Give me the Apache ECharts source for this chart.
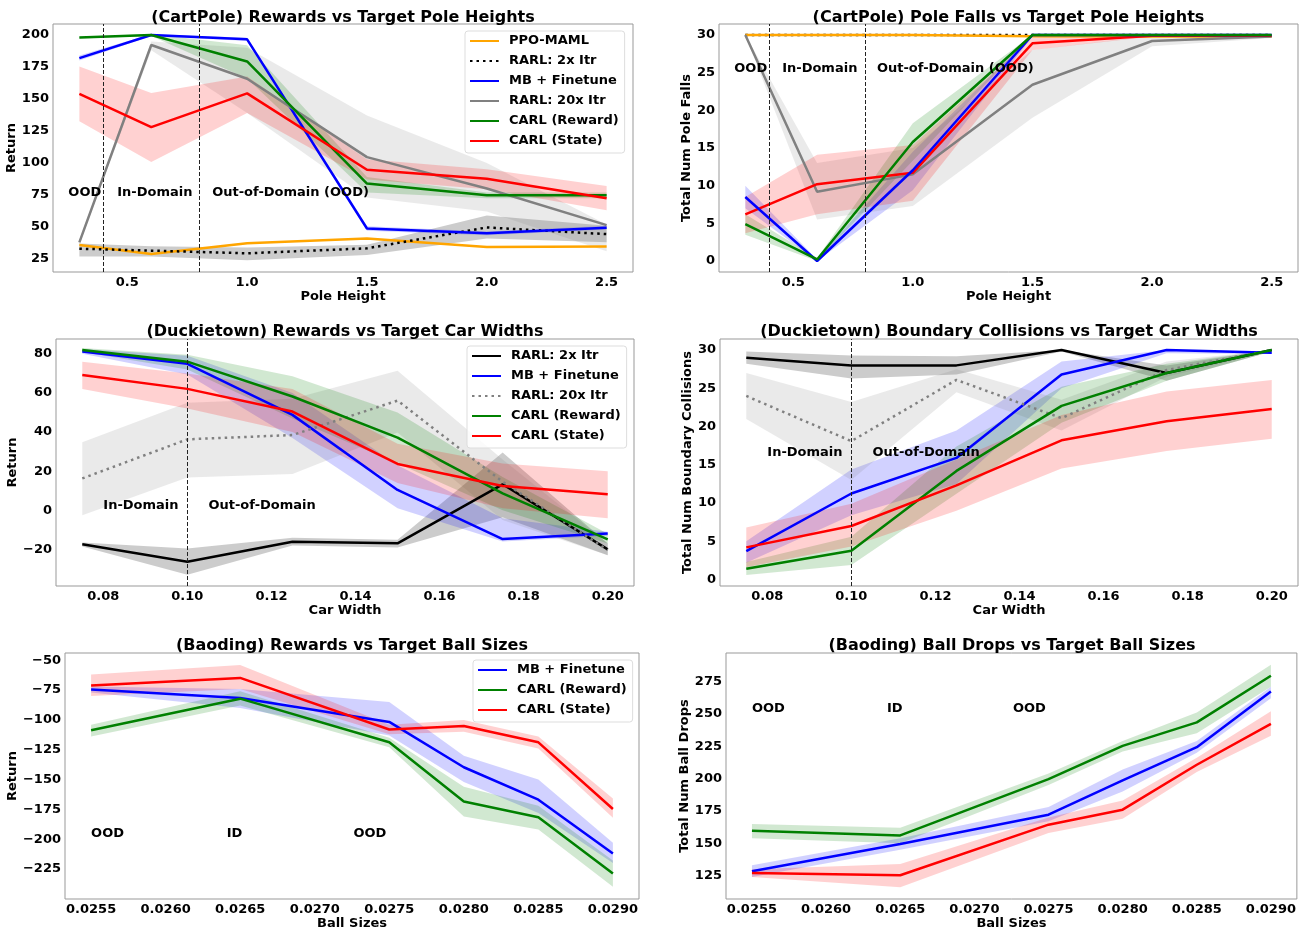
<!DOCTYPE html>
<html><head><meta charset="utf-8">
<script src="https://cdn.jsdelivr.net/npm/echarts@6/dist/echarts.min.js"></script>
<style>html,body{margin:0;padding:0;background:#fff}#c{width:1299px;height:931px}</style>
</head><body><div id="c"></div>
<script>
// ---------- CartPole rewards ----------
const cpX = [0.3, 0.6, 1.0, 1.5, 2.0, 2.5];
const cpRewPPO = [35.9, 28.9, 37.2, 41, 34.3, 34.8];
const cpRewRARL2 = [33, 31.5, 29.4, 33.3, 49.6, 44.4];
const cpRewRARL2Lo = [27, 27, 24, 28, 41, 38];
const cpRewRARL2Hi = [37, 35, 34, 36, 59, 51];
const cpRewMB = [181.9, 200, 196.6, 48.8, 45, 49.4];
const cpRewMBLo = [180, 199.3, 195.3, 47, 43.5, 48];
const cpRewMBHi = [184, 200.7, 197.8, 50.5, 46.5, 51];
const cpRewRARL20 = [38, 192.2, 165.8, 104.6, 80, 51.4];
const cpRewRARL20Lo = [36, 188, 139, 73, 62, 31];
const cpRewRARL20Hi = [40, 195, 190, 137, 100, 52];
const cpRewCR = [198, 200, 179.3, 83.9, 74.8, 74.8];
const cpRewCRLo = [197.3, 199.3, 166, 77, 72.5, 72.5];
const cpRewCRHi = [198.7, 200.7, 192, 89, 77, 77];
const cpRewCS = [154, 128, 154.4, 94.7, 87.7, 72.4];
const cpRewCSLo = [132.6, 100.7, 139, 87, 79.4, 63];
const cpRewCSHi = [175.4, 154.6, 167.6, 103, 95, 82];
// ---------- CartPole pole falls ----------
const cpFallPPO = [30, 30, 30, 29.85, 29.8, 29.8];
const cpFallRARL2 = [30, 30, 30, 30, 30, 30];
const cpFallMB = [8.5, 0, 12.05, 30, 30, 30];
const cpFallMBLo = [7, 0, 9.4, 29.8, 30, 30];
const cpFallMBHi = [10, 0.2, 14.5, 30, 30, 30];
const cpFallRARL20 = [30, 9.2, 11.5, 23.4, 29.2, 29.8];
const cpFallRARL20Lo = [30, 5.5, 7.3, 19, 28.5, 29.6];
const cpFallRARL20Hi = [30, 13, 15, 28, 29.9, 30];
const cpFallCR = [4.9, 0.2, 15.8, 30, 30, 30];
const cpFallCRLo = [3.5, 0, 13.3, 30, 30, 30];
const cpFallCRHi = [6.2, 0.4, 18.3, 30, 30, 30];
const cpFallCS = [6.2, 10.2, 11.7, 28.9, 29.9, 29.9];
const cpFallCSLo = [3.7, 6.2, 8, 28, 29.8, 29.8];
const cpFallCSHi = [8.5, 14.1, 15.4, 29.7, 30, 30];
// ---------- Duckietown rewards ----------
const dtX = [0.075, 0.1, 0.125, 0.15, 0.175, 0.2];
const dtRewRARL2 = [-17.4, -26.3, -16.1, -16.9, 13.3, -20];
const dtRewRARL2Lo = [-18.5, -33, -18, -19, -3.5, -23];
const dtRewRARL2Hi = [-16.5, -19.5, -14, -15, 29.5, -17];
const dtRewMB = [81.2, 74.9, 48.8, 10.4, -14.7, -11.8];
const dtRewMBLo = [80, 69.5, 37, 1, -16, -13];
const dtRewMBHi = [82.5, 79, 60, 23, -4, -11];
const dtRewRARL20 = [16.3, 36.3, 38.5, 56.1, 14.6, -20.3];
const dtRewRARL20Lo = [-2.5, 16.8, 18.6, 39.8, -5, -23];
const dtRewRARL20Hi = [34.8, 55, 57, 71.4, 26, -17];
const dtRewCR = [82, 76, 58.2, 37.2, 8.7, -14.9];
const dtRewCRLo = [81, 72, 47, 24, 0, -17];
const dtRewCRHi = [83, 79.5, 68.5, 50, 17, -12];
const dtRewCS = [69.2, 62.1, 50.5, 23.7, 12.4, 8.2];
const dtRewCSLo = [62, 52, 40, 14, 1, -4];
const dtRewCSHi = [76, 70, 62, 34, 24, 20];
// ---------- Duckietown collisions ----------
const dtColRARL2 = [29, 28, 28, 30, 27, 30];
const dtColRARL2Lo = [28.2, 26.3, 26.8, 29.8, 26, 29.8];
const dtColRARL2Hi = [29.8, 29.3, 29.2, 30, 28, 30];
const dtColMB = [3.7, 11.25, 15.9, 26.8, 30, 29.65];
const dtColMBLo = [2.2, 8.4, 12.5, 25, 29.6, 29.5];
const dtColMBHi = [5, 14.4, 19.5, 28.5, 30, 29.8];
const dtColRARL20 = [24, 18.1, 26.1, 21.1, 27.4, 30];
const dtColRARL20Lo = [21, 13, 24.5, 19.5, 26.5, 29.8];
const dtColRARL20Hi = [27, 23.2, 27.5, 23.5, 28.5, 30];
const dtColCR = [1.4, 3.75, 14.2, 22.7, 27, 30];
const dtColCRLo = [0.6, 1.9, 11.2, 20.5, 26, 29.8];
const dtColCRHi = [2.3, 5.6, 17.4, 25.2, 28.2, 30];
const dtColCS = [4.2, 7, 12.3, 18.2, 20.7, 22.3];
const dtColCSLo = [1.6, 4.3, 9, 14.5, 16.8, 18.4];
const dtColCSHi = [6.8, 9.9, 15.7, 21.5, 24.6, 26.1];
// ---------- Baoding rewards ----------
const bdX = [0.0255, 0.0265, 0.0275, 0.0280, 0.0285, 0.0290];
const bdRewMB = [-74.6, -81.6, -101.7, -139.7, -166.9, -212.1];
const bdRewMBLo = [-77, -90, -113, -152, -178, -220];
const bdRewMBHi = [-72, -74, -85, -130, -150, -203];
const bdRewCR = [-108.7, -82.2, -118.8, -168.5, -181.7, -228.9];
const bdRewCRLo = [-114, -88, -123, -181, -192, -240];
const bdRewCRHi = [-104, -76, -115, -156, -172, -218];
const bdRewCS = [-71.2, -64.8, -108.1, -105.1, -118.8, -174.7];
const bdRewCSLo = [-80, -74, -112, -110, -124, -182];
const bdRewCSHi = [-62, -54, -104, -100, -114, -166];
// ---------- Baoding ball drops ----------
const bdDropCR = [159.7, 156.1, 199.6, 225.3, 243.4, 279.4];
const bdDropCRLo = [154, 150, 195, 221, 235, 271];
const bdDropCRHi = [165, 162, 204, 229, 251, 288];
const bdDropMB = [128.4, 149.5, 172.1, 198.6, 224.3, 267.3];
const bdDropMBLo = [124, 145, 167, 190, 220, 262];
const bdDropMBHi = [133, 154, 178, 207, 229, 271];
const bdDropCS = [127.1, 125.3, 164.4, 176, 210.7, 242.3];
const bdDropCSLo = [124, 116, 158, 169, 205, 233];
const bdDropCSHi = [130, 134, 170, 183, 216, 252];
// ---------- ticks ----------
const cpXTicks = [0.5, 1.0, 1.5, 2.0, 2.5];
const cpRewYTicks = [25, 50, 75, 100, 125, 150, 175, 200];
const cpFallYTicks = [0, 5, 10, 15, 20, 25, 30];
const dtXTicks = [0.08, 0.10, 0.12, 0.14, 0.16, 0.18, 0.20];
const dtRewYTicks = [-20, 0, 20, 40, 60, 80];
const dtColYTicks = [0, 5, 10, 15, 20, 25, 30];
const bdXTicks = [0.0255, 0.0260, 0.0265, 0.0270, 0.0275, 0.0280, 0.0285, 0.0290];
const bdRewYTicks = [-225, -200, -175, -150, -125, -100, -75, -50];
const bdDropYTicks = [125, 150, 175, 200, 225, 250, 275];
// ---------- region markers & notes ----------
const cpVLines = [0.4, 0.8];
const dtVLines = [0.10];
const bdVLines = [0.0260, 0.0270];
const cpRewNotes = [[0.254, 77, 'OOD'], [0.458, 77, 'In-Domain'], [0.854, 77, 'Out-of-Domain (OOD)']];
const cpFallNotes = [[0.254, 25.6, 'OOD'], [0.454, 25.6, 'In-Domain'], [0.85, 25.6, 'Out-of-Domain (OOD)']];
const dtRewNotes = [[0.08, 2.3, 'In-Domain'], [0.105, 2.3, 'Out-of-Domain']];
const dtColNotes = [[0.08, 16.6, 'In-Domain'], [0.105, 16.6, 'Out-of-Domain']];
const bdRewNotes = [[0.0255, -195.6, 'OOD'], [0.02641, -195.6, 'ID'], [0.02726, -195.6, 'OOD']];
const bdDropNotes = [[0.0255, 253.9, 'OOD'], [0.02641, 253.9, 'ID'], [0.02726, 253.9, 'OOD']];

const FONT = 'DejaVu Sans';
const C = {ppo: '#FFA500', rarl2: '#000000', mb: '#0000FF', rarl20: '#808080', cr: '#008000', cs: '#FF0000'};
const BAND = {rarl2: 'rgba(0,0,0,0.2)', mb: 'rgba(0,0,255,0.18)', rarl20: 'rgba(128,128,128,0.17)', cr: 'rgba(0,128,0,0.18)', cs: 'rgba(255,0,0,0.18)'};
const DOT = [2.5, 4];

const series = [];
function line(g, name, xs, ys, color, dash) {
  series.push({type: 'line', name: name, xAxisIndex: g, yAxisIndex: g, z: 3,
    data: xs.map((x, i) => [x, ys[i]]), symbol: 'none', silent: true,
    lineStyle: {color: color, width: 2.5, type: dash || 'solid', cap: 'butt'}, itemStyle: {color: color}});
}
function band(g, xs, lo, hi, fill) {
  series.push({type: 'custom', xAxisIndex: g, yAxisIndex: g, z: 1, silent: true,
    data: [[xs[0], lo[0]]],
    renderItem: function (p, api) {
      const pts = [];
      for (let i = 0; i < xs.length; i++) pts.push(api.coord([xs[i], hi[i]]));
      for (let i = xs.length - 1; i >= 0; i--) pts.push(api.coord([xs[i], lo[i]]));
      return {type: 'polygon', shape: {points: pts}, style: {fill: fill, stroke: null}};
    }});
}
function notes(g, arr, vlines) {
  series.push({type: 'scatter', xAxisIndex: g, yAxisIndex: g, z: 4, silent: true, symbolSize: 0,
    itemStyle: {color: '#000', opacity: 1},
    data: arr.map(n => ({value: [n[0], n[1]], label: {formatter: n[2]}})),
    label: {show: true, position: 'right', distance: 0, fontFamily: FONT, fontSize: 13, fontWeight: 'bold', color: '#000', opacity: 1},
    markLine: {silent: true, symbol: ['none', 'none'], label: {show: false}, animation: false,
      lineStyle: {color: '#222', width: 1, type: [4, 2]},
      data: vlines.map(v => ({xAxis: v}))}
  });
}
// panel 0
band(0, cpX, cpRewRARL2Lo, cpRewRARL2Hi, BAND.rarl2);
band(0, cpX, cpRewMBLo, cpRewMBHi, BAND.mb);
band(0, cpX, cpRewRARL20Lo, cpRewRARL20Hi, BAND.rarl20);
band(0, cpX, cpRewCRLo, cpRewCRHi, BAND.cr);
band(0, cpX, cpRewCSLo, cpRewCSHi, BAND.cs);
line(0, 'p0|PPO-MAML', cpX, cpRewPPO, C.ppo);
line(0, 'p0|RARL: 2x Itr', cpX, cpRewRARL2, C.rarl2, DOT);
line(0, 'p0|MB + Finetune', cpX, cpRewMB, C.mb);
line(0, 'p0|RARL: 20x Itr', cpX, cpRewRARL20, C.rarl20);
line(0, 'p0|CARL (Reward)', cpX, cpRewCR, C.cr);
line(0, 'p0|CARL (State)', cpX, cpRewCS, C.cs);
notes(0, cpRewNotes, cpVLines);
// panel 1
band(1, cpX, cpFallMBLo, cpFallMBHi, BAND.mb);
band(1, cpX, cpFallRARL20Lo, cpFallRARL20Hi, BAND.rarl20);
band(1, cpX, cpFallCRLo, cpFallCRHi, BAND.cr);
band(1, cpX, cpFallCSLo, cpFallCSHi, BAND.cs);
line(1, 'p1|RARL: 2x Itr', cpX, cpFallRARL2, C.rarl2, DOT);
line(1, 'p1|PPO-MAML', cpX, cpFallPPO, C.ppo);
line(1, 'p1|RARL: 20x Itr', cpX, cpFallRARL20, C.rarl20);
line(1, 'p1|CARL (State)', cpX, cpFallCS, C.cs);
line(1, 'p1|MB + Finetune', cpX, cpFallMB, C.mb);
line(1, 'p1|CARL (Reward)', cpX, cpFallCR, C.cr);
notes(1, cpFallNotes, cpVLines);
// panel 2
band(2, dtX, dtRewRARL2Lo, dtRewRARL2Hi, BAND.rarl2);
band(2, dtX, dtRewMBLo, dtRewMBHi, BAND.mb);
band(2, dtX, dtRewRARL20Lo, dtRewRARL20Hi, BAND.rarl20);
band(2, dtX, dtRewCRLo, dtRewCRHi, BAND.cr);
band(2, dtX, dtRewCSLo, dtRewCSHi, BAND.cs);
line(2, 'p2|RARL: 2x Itr', dtX, dtRewRARL2, C.rarl2);
line(2, 'p2|MB + Finetune', dtX, dtRewMB, C.mb);
line(2, 'p2|RARL: 20x Itr', dtX, dtRewRARL20, C.rarl20, DOT);
line(2, 'p2|CARL (Reward)', dtX, dtRewCR, C.cr);
line(2, 'p2|CARL (State)', dtX, dtRewCS, C.cs);
notes(2, dtRewNotes, dtVLines);
// panel 3
band(3, dtX, dtColRARL2Lo, dtColRARL2Hi, BAND.rarl2);
band(3, dtX, dtColMBLo, dtColMBHi, BAND.mb);
band(3, dtX, dtColRARL20Lo, dtColRARL20Hi, BAND.rarl20);
band(3, dtX, dtColCRLo, dtColCRHi, BAND.cr);
band(3, dtX, dtColCSLo, dtColCSHi, BAND.cs);
line(3, 'p3|RARL: 2x Itr', dtX, dtColRARL2, C.rarl2);
line(3, 'p3|MB + Finetune', dtX, dtColMB, C.mb);
line(3, 'p3|RARL: 20x Itr', dtX, dtColRARL20, C.rarl20, DOT);
line(3, 'p3|CARL (Reward)', dtX, dtColCR, C.cr);
line(3, 'p3|CARL (State)', dtX, dtColCS, C.cs);
notes(3, dtColNotes, dtVLines);
// panel 4
band(4, bdX, bdRewMBLo, bdRewMBHi, BAND.mb);
band(4, bdX, bdRewCRLo, bdRewCRHi, BAND.cr);
band(4, bdX, bdRewCSLo, bdRewCSHi, BAND.cs);
line(4, 'p4|MB + Finetune', bdX, bdRewMB, C.mb);
line(4, 'p4|CARL (Reward)', bdX, bdRewCR, C.cr);
line(4, 'p4|CARL (State)', bdX, bdRewCS, C.cs);
notes(4, bdRewNotes, bdVLines);
// panel 5
band(5, bdX, bdDropMBLo, bdDropMBHi, BAND.mb);
band(5, bdX, bdDropCRLo, bdDropCRHi, BAND.cr);
band(5, bdX, bdDropCSLo, bdDropCSHi, BAND.cs);
line(5, 'p5|MB + Finetune', bdX, bdDropMB, C.mb);
line(5, 'p5|CARL (Reward)', bdX, bdDropCR, C.cr);
line(5, 'p5|CARL (State)', bdX, bdDropCS, C.cs);
notes(5, bdDropNotes, bdVLines);

const grids = [
  {left: 53, top: 24, width: 580, height: 248},
  {left: 719, top: 24, width: 579, height: 248},
  {left: 56, top: 339, width: 578, height: 247},
  {left: 720, top: 339, width: 578, height: 247},
  {left: 65, top: 653, width: 574, height: 246},
  {left: 726, top: 653, width: 572, height: 246}
].map(g => Object.assign(g, {show: true, borderColor: '#999', borderWidth: 1, backgroundColor: 'transparent', containLabel: false}));

function fmt(v, d) { return v.toFixed(d).replace('-', '\u2212'); }
const lblStyle = {fontFamily: FONT, fontSize: 13, fontWeight: 'bold', color: '#000'};
function xAx(g, min, max, ticks, d, name) {
  return {type: 'value', gridIndex: g, min: min, max: max, name: name, nameLocation: 'middle', nameGap: 16,
    nameTextStyle: lblStyle, axisLine: {show: false}, axisTick: {show: false}, splitLine: {show: false},
    axisLabel: Object.assign({customValues: ticks, formatter: v => fmt(v, d), margin: 4}, lblStyle)};
}
function yAx(g, min, max, ticks, d, name, gap) {
  return {type: 'value', gridIndex: g, min: min, max: max, name: name, nameLocation: 'middle', nameGap: gap,
    nameTextStyle: lblStyle, axisLine: {show: false}, axisTick: {show: false}, splitLine: {show: false},
    axisLabel: Object.assign({customValues: ticks, formatter: v => fmt(v, d), margin: 4}, lblStyle)};
}
const xAxis = [
  xAx(0, 0.19, 2.61, cpXTicks, 1, 'Pole Height'),
  xAx(1, 0.19, 2.61, cpXTicks, 1, 'Pole Height'),
  xAx(2, 0.06875, 0.20625, dtXTicks, 2, 'Car Width'),
  xAx(3, 0.06875, 0.20625, dtXTicks, 2, 'Car Width'),
  xAx(4, 0.025325, 0.029175, bdXTicks, 4, 'Ball Sizes'),
  xAx(5, 0.025325, 0.029175, bdXTicks, 4, 'Ball Sizes')
];
const yAxis = [
  yAx(0, 14.8, 208.6, cpRewYTicks, 0, 'Return', 32),
  yAx(1, -1.46, 31.46, cpFallYTicks, 0, 'Total Num Pole Falls', 24),
  yAx(2, -38.7, 87.6, dtRewYTicks, 0, 'Return', 34),
  yAx(3, -0.85, 31.45, dtColYTicks, 0, 'Total Num Boundary Collisions', 23),
  yAx(4, -250.2, -43.9, bdRewYTicks, 0, 'Return', 43),
  yAx(5, 107, 297, bdDropYTicks, 0, 'Total Num Ball Drops', 32)
];
const titleText = ['(CartPole) Rewards vs Target Pole Heights', '(CartPole) Pole Falls vs Target Pole Heights',
  '(Duckietown) Rewards vs Target Car Widths', '(Duckietown) Boundary Collisions vs Target Car Widths',
  '(Baoding) Rewards vs Target Ball Sizes', '(Baoding) Ball Drops vs Target Ball Sizes'];
const titleTop = [10, 10, 324, 324, 638, 638];
const title = titleText.map((t, i) => ({text: t, left: grids[i].left + grids[i].width / 2, top: titleTop[i],
  textAlign: 'center', padding: 0, textStyle: {fontFamily: FONT, fontSize: 16, fontWeight: 'bold', color: '#000'}}));

function legend(prefix, names, left, top) {
  return {data: names.map(n => prefix + '|' + n), left: left, top: top, orient: 'vertical', selectedMode: false,
    formatter: n => n.split('|')[1], itemWidth: 29, itemHeight: 14, itemGap: 6,
    itemStyle: {opacity: 0, borderWidth: 0},
    padding: [3, 6, 5, 4], backgroundColor: 'rgba(255,255,255,0.8)', borderColor: '#ddd', borderWidth: 1, borderRadius: 3,
    textStyle: {fontFamily: FONT, fontSize: 13, fontWeight: 'bold', color: '#000', lineHeight: 14, padding: [0, 0, 0, 5]}};
}
const legendArr = [
  legend('p0', ['PPO-MAML', 'RARL: 2x Itr', 'MB + Finetune', 'RARL: 20x Itr', 'CARL (Reward)', 'CARL (State)'], 465, 31),
  legend('p2', ['RARL: 2x Itr', 'MB + Finetune', 'RARL: 20x Itr', 'CARL (Reward)', 'CARL (State)'], 467, 346),
  legend('p4', ['MB + Finetune', 'CARL (Reward)', 'CARL (State)'], 473, 660)
];

const chart = echarts.init(document.getElementById('c'), null, {renderer: 'canvas'});
chart.setOption({animation: false, backgroundColor: '#fff', title: title, grid: grids, xAxis: xAxis, yAxis: yAxis,
  legend: legendArr, series: series});
</script>
</body></html>
